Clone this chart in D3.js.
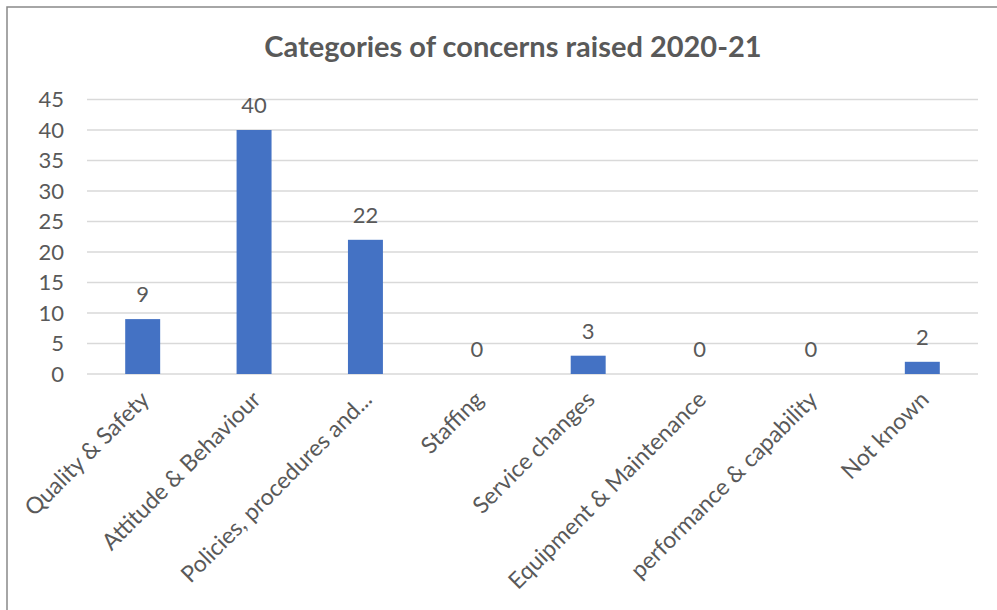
<html>
<meta charset="utf-8"></meta>
<script src="https://cdn.jsdelivr.net/npm/d3@7/dist/d3.min.js" charset="utf-8"></script>
<style>
body{margin:0;background:#fff;}
text{font-family:Lato,"Open Sans",sans-serif;fill:#595959;}
</style>
<body>
<svg id="chart" width="997" height="610"></svg>
<script type="text/javascript">
var title = "Categories of concerns raised 2020-21";
var categories = ["Quality & Safety","Attitude & Behaviour","Policies, procedures and...","Staffing","Service changes","Equipment & Maintenance","performance & capability","Not known"];
var values = [9,40,22,0,3,0,0,2];
var yTicks = [0,5,10,15,20,25,30,35,40,45];

function draw(){
	var svg = d3.select("#chart");
	var pLeft = 87, pRight = 978, pTop = 99.5, pBottom = 374;

	// outer frame
	svg.append("rect").attr("x",7).attr("y",7).attr("width",1100).attr("height",700)
		.attr("fill","none").attr("stroke","#898989").attr("stroke-width",1.5);

	svg.append("text").attr("x",513).attr("y",57).attr("text-anchor","middle")
		.style("font-size","29px").style("font-weight","bold").text(title);

	var x = d3.scaleBand().domain(categories).range([pLeft,pRight]).paddingInner(0.686).paddingOuter(0.343);
	var y = d3.scaleLinear().domain([0,45]).range([pBottom,pTop]);

	var g = svg.append("g");
	// gridlines
	g.selectAll("line.grid").data(yTicks).enter().append("line").attr("class","grid")
		.attr("x1",pLeft).attr("x2",pRight)
		.attr("y1",function(d){return y(d);}).attr("y2",function(d){return y(d);})
		.attr("stroke","#d9d9d9").attr("stroke-width",1.5);

	// y axis labels
	var yAxis = d3.axisLeft(y).tickValues(yTicks).tickSize(0).tickPadding(0);
	var ya = svg.append("g").attr("transform","translate(64,0)").call(yAxis);
	ya.select(".domain").remove();
	ya.selectAll("text").style("font-size","22px").attr("fill","#595959");

	// bars
	g.selectAll("rect.bar").data(values).enter().append("rect").attr("class","bar")
		.attr("x",function(d,i){return x(categories[i]);})
		.attr("width",x.bandwidth())
		.attr("y",function(d){return y(d);})
		.attr("height",function(d){return pBottom-y(d);})
		.attr("fill","#4472c4");

	// data labels
	g.selectAll("text.lbl").data(values).enter().append("text").attr("class","lbl")
		.attr("x",function(d,i){return x(categories[i])+x.bandwidth()/2;})
		.attr("y",function(d){return y(d)-17;})
		.attr("text-anchor","middle").style("font-size","22px")
		.text(function(d){return d;});

	// category labels
	var xAxis = d3.axisBottom(x).tickSize(0).tickPadding(0);
	var xa = svg.append("g").attr("transform","translate(0,"+pBottom+")").call(xAxis);
	xa.select(".domain").remove();
	xa.selectAll("text").style("font-size","23px").attr("fill","#595959")
		.attr("text-anchor","end").attr("dy",null).attr("y",0)
		.attr("transform","translate(8,27) rotate(-45)");
}
draw();
</script>
</body>
</html>
